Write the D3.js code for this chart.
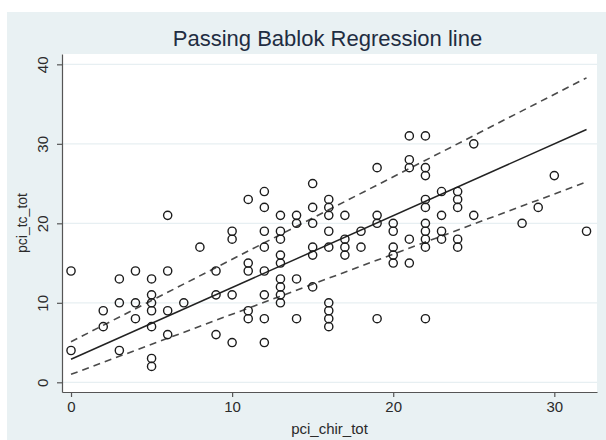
<!DOCTYPE html>
<html>
<head>
<meta charset="utf-8">
<script src="https://cdn.jsdelivr.net/npm/d3@7"></script>
<style>
  body { margin: 0; background: #fff; }
  text { font-family: "Liberation Sans", Arial, sans-serif; }
</style>
</head>
<body>
<div id="chart"></div>
<script>
// scatter values (pci_chir_tot, pci_tc_tot)
var chirTot = [0,0, 2,2, 3,3,3, 4,4,4, 5,5,5,5,5,5,5, 6,6,6,6, 7, 8, 9,9,9, 10,10,10,10,
  11,11,11,11,11, 12,12,12,12,12,12,12,12, 13,13,13,13,13,13,13,13,13, 14,14,14,14,
  15,15,15,15,15,15, 16,16,16,16,16,16,16,16,16, 17,17,17,17, 18,18, 19,19,19,19,
  20,20,20,20,20, 21,21,21,21,21, 22,22,22,22,22,22,22,22,22,22, 23,23,23,23,
  24,24,24,24,24, 25,25, 28, 29, 30, 32];
var tcTot = [14,4, 9,7, 13,10,4, 14,10,8, 13,11,10,9,7,3,2, 21,14,9,6, 10, 17, 14,11,6, 19,18,11,5,
  23,15,14,9,8, 24,22,19,17,14,11,8,5, 21,19,18,16,15,13,12,11,10, 21,20,13,8,
  25,22,20,17,16,12, 23,22,21,19,17,10,9,8,7, 21,18,17,16, 19,17, 27,21,20,8,
  20,19,17,16,15, 31,28,27,18,15, 31,27,26,23,22,20,19,18,17,8, 24,21,19,18,
  24,23,22,18,17, 30,21, 20, 22, 26, 19];

// regression line and its bounds, at x = 0 and x = 32
var lineX  = [0, 32];
var fitY   = [2.9, 31.8];
var upperY = [5.1, 38.3];
var lowerY = [1.0, 25.2];

var xTicks = [0, 10, 20, 30];
var yTicks = [0, 10, 20, 30, 40];

var width = 606, height = 440;
var plot = { left: 62, right: 597, top: 54, bottom: 392 };

var svg = d3.select("#chart").append("svg")
    .attr("width", width)
    .attr("height", height);

// outer panel
svg.append("rect")
    .attr("x", 7).attr("y", 12)
    .attr("width", width - 7).attr("height", height - 12)
    .attr("fill", "#e9f1f3");

svg.append("rect")
    .attr("x", plot.left).attr("y", plot.top)
    .attr("width", plot.right - plot.left).attr("height", plot.bottom - plot.top)
    .attr("fill", "#fff");

var x = d3.scaleLinear()
    .domain([-0.56, 32.65])
    .range([plot.left, plot.right]);
var y = d3.scaleLinear()
    .domain([-1.22, 41.3])
    .range([plot.bottom, plot.top]);

// faint gridlines
svg.selectAll(".grid")
    .data(yTicks)
  .enter().append("line")
    .attr("class", "grid")
    .attr("x1", plot.left).attr("x2", plot.right)
    .attr("y1", function(d) { return y(d); })
    .attr("y2", function(d) { return y(d); })
    .attr("stroke", "#e7eff2")
    .attr("stroke-width", 1.2);

// axes
var xAxis = svg.append("g")
    .attr("transform", "translate(0," + plot.bottom + ")")
    .call(d3.axisBottom(x).tickValues(xTicks).tickSize(5).tickSizeOuter(0).tickPadding(4));
var yAxis = svg.append("g")
    .attr("transform", "translate(" + plot.left + ",0)")
    .call(d3.axisLeft(y).tickValues(yTicks).tickSize(5).tickSizeOuter(0));

[xAxis, yAxis].forEach(function(g) {
  g.select(".domain").attr("stroke", "#555").attr("stroke-width", 1.2);
  g.selectAll(".tick line").attr("stroke", "#555").attr("stroke-width", 1.2);
  g.selectAll("text")
      .style("font-family", "'Liberation Sans', Arial, sans-serif")
      .style("font-size", "15px")
      .attr("fill", "#2b2b2b");
});

// rotate y tick labels like Stata does
yAxis.selectAll(".tick text")
    .attr("x", null).attr("dy", null)
    .attr("transform", "translate(-14,0) rotate(-90)")
    .attr("text-anchor", "middle");

// confidence bounds (dashed) and fit line
var line = d3.line()
    .x(function(d) { return x(d[0]); })
    .y(function(d) { return y(d[1]); });

[upperY, lowerY].forEach(function(ys) {
  svg.append("path")
      .datum(lineX.map(function(v, i) { return [v, ys[i]]; }))
      .attr("d", line)
      .attr("fill", "none")
      .attr("stroke", "#4a4a4a")
      .attr("stroke-width", 1.6)
      .attr("stroke-dasharray", "7,5");
});

svg.append("path")
    .datum(lineX.map(function(v, i) { return [v, fitY[i]]; }))
    .attr("d", line)
    .attr("fill", "none")
    .attr("stroke", "#222")
    .attr("stroke-width", 1.5);

// points
svg.selectAll(".pt")
    .data(chirTot)
  .enter().append("circle")
    .attr("class", "pt")
    .attr("cx", function(d) { return x(d); })
    .attr("cy", function(d, i) { return y(tcTot[i]); })
    .attr("r", 4.1)
    .attr("fill", "none")
    .attr("stroke", "#1c1c1c")
    .attr("stroke-width", 1.4);

// titles
svg.append("text")
    .attr("x", (plot.left + plot.right) / 2 - 2)
    .attr("y", 46)
    .attr("text-anchor", "middle")
    .style("font-size", "22px")
    .attr("fill", "#1f2d42")
    .text("Passing Bablok Regression line");

svg.append("text")
    .attr("x", (plot.left + plot.right) / 2)
    .attr("y", 434)
    .attr("text-anchor", "middle")
    .style("font-size", "15px")
    .attr("fill", "#2b2b2b")
    .text("pci_chir_tot");

svg.append("text")
    .attr("transform", "translate(27," + ((plot.top + plot.bottom) / 2) + ") rotate(-90)")
    .attr("text-anchor", "middle")
    .style("font-size", "14px")
    .attr("fill", "#2b2b2b")
    .text("pci_tc_tot");
</script>
</body>
</html>
